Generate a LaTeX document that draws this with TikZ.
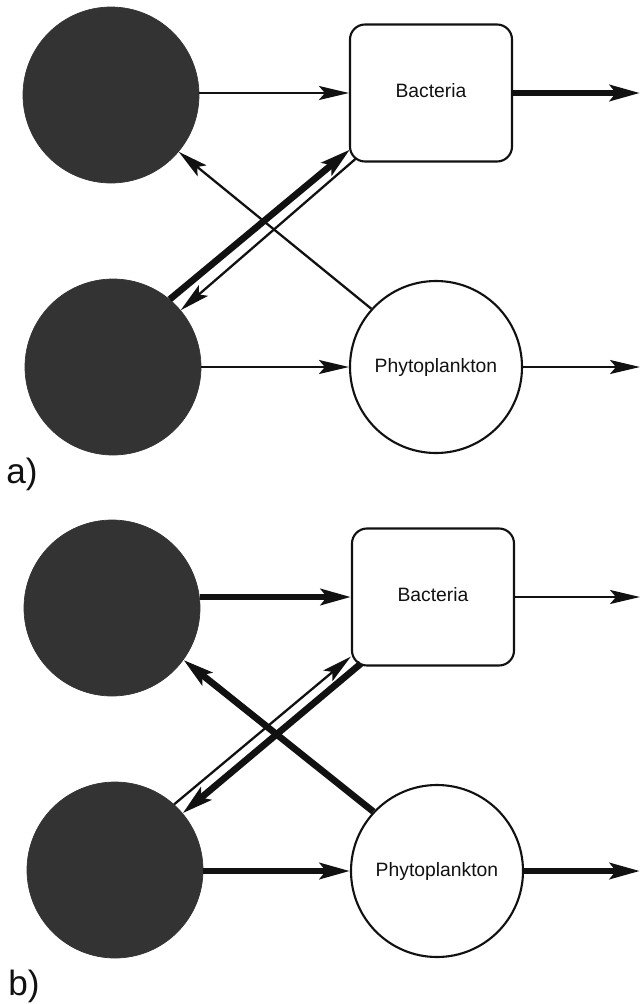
\documentclass[tikz,border=0pt]{standalone}
\usepackage{fontspec}
\setmainfont{Liberation Sans}
\usetikzlibrary{arrows.meta}

\definecolor{fwPool}{HTML}{333333}
\definecolor{fwInk}{HTML}{111111}

\begin{document}
\begin{tikzpicture}[
  x=0.2mm, y=-0.2mm, font=\fontsize{11}{13}\selectfont, text=fwInk,
  fw pool/.style={circle,fill=fwPool,draw=fwPool,minimum size=35.2mm,inner sep=0pt},
  fw phyto/.style={circle,draw=fwInk,line width=1.2pt,minimum size=34.4mm,inner sep=0pt},
  fw bact/.style={rectangle,rounded corners=3mm,draw=fwInk,line width=1.2pt,
    minimum width=32.4mm,minimum height=27.4mm,inner sep=0pt},
  fw thin/.style={draw=fwInk,line width=1.3pt,
    -{Stealth[length=6mm,width=2.8mm,inset=1.2mm]}},
  fw thick/.style={draw=fwInk,line width=3.8pt,
    -{Stealth[length=6mm,width=3.2mm,inset=1.2mm]}},
  fw panel/.style={font=\fontsize{20}{23}\selectfont,inner sep=0pt}
]
% Page frame in pixel units (y grows downwards).
\useasboundingbox (0,0) rectangle (641,1004);
\def\xOut{640}

% Panel a): pools and compartments.
\node[fw pool] (tA) at (111,95) {};
\node[fw pool] (dA) at (113,367) {};
\node[fw bact] (bA) at (431,93) {\raisebox{1.2mm}{Bacteria}};
\node[fw phyto] (pA) at (436,367) {Phytoplankton};
\coordinate (bAout) at (\xOut,93);
\coordinate (pAout) at (\xOut,367);

% Panel a): fluxes.
\draw[fw thin] (tA.east |- bA.west) -- (bA.west);
\draw[fw thick] (bA.east) -- (bAout);
\draw[fw thin] (dA.east |- pA.west) -- (pA.west);
\draw[fw thin] (pA.east) -- (pAout);
\draw[fw thin] (pA.138) -- (tA.-40);
\draw[fw thick] (dA.50) -- ([shift={(1,-13)}]bA.south west);
\draw[fw thin] ([shift={(7,-4)}]bA.south west) -- (dA.40);

% Panel b): pools and compartments.
\node[fw pool] (tB) at (112,608) {};
\node[fw pool] (dB) at (115,870) {};
\node[fw bact] (bB) at (433,597) {\raisebox{1.2mm}{Bacteria}};
\node[fw phyto] (pB) at (437,871) {Phytoplankton};
\coordinate (bBout) at (\xOut,597);
\coordinate (pBout) at (\xOut,871);

% Panel b): fluxes.
\draw[fw thick] (tB.east |- bB.west) -- (bB.west);
\draw[fw thin] (bB.east) -- (bBout);
\draw[fw thick] (dB.east |- pB.west) -- (pB.west);
\draw[fw thick] (pB.east) -- (pBout);
\draw[fw thick] (pB.137) -- (tB.-36);
\draw[fw thin] (dB.48) -- ([shift={(0,-10)}]bB.south west);
\draw[fw thick] ([shift={(10,-3)}]bB.south west) -- (dB.40);

% Panel labels.
\node[fw panel] (labA) at (22,474) {a)};
\node[fw panel] (labB) at (24,986) {b)};
\end{tikzpicture}
\end{document}
